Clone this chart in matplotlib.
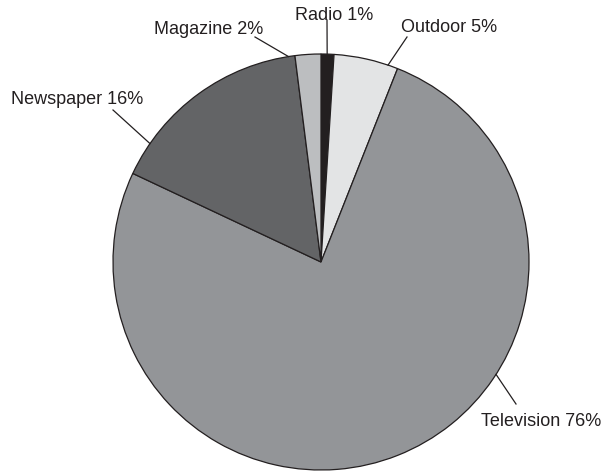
import matplotlib.pyplot as plt
import numpy as np

plt.rcParams['font.family'] = ['Liberation Sans', 'DejaVu Sans']

# clockwise from 12 o'clock
media = ["Radio", "Outdoor", "Television", "Newspaper", "Magazine"]
share = [1, 5, 76, 16, 2]
colors = ["#231f20", "#e3e4e5", "#939598", "#636466", "#bcbec0"]

# leader line: angle where it leaves the rim (deg), free end (px, y from top),
# label centre (px, y from top)
lead_ang = [88.3, 71.2, -32.7, 145.3, 99.0]
lead_end = [(327, 20), (407, 37), (516, 404), (113, 110), (255, 37)]
lab_pos = [(334, 16), (449, 27), (541, 421), (77, 99), (209, 29)]

W, H = 605, 471
cx, cy, R = 321, 262, 208

fig = plt.figure(figsize=(W / 100, H / 100), dpi=100)
ax = fig.add_axes([0, 0, 1, 1])

ax.pie(share, colors=colors, startangle=90, counterclock=False,
       center=(cx, H - cy), radius=R,
       wedgeprops=dict(edgecolor="#231f20", linewidth=0.9), frame=True)
ax.set_xlim(0, W)
ax.set_ylim(0, H)
ax.set_aspect('equal')
ax.axis('off')

for name, s, a, (ex, ey), (tx, ty) in zip(media, share, lead_ang, lead_end, lab_pos):
    t = np.deg2rad(a)
    x0, y0 = cx + R * np.cos(t), (H - cy) + R * np.sin(t)
    ax.plot([x0, ex], [y0, H - ey], color="#231f20", lw=0.9)
    ax.text(tx, H - ty, f"{name} {s}%", ha='center', va='center',
            fontsize=13, color="#231f20")

fig.savefig("out.png", dpi=100)
